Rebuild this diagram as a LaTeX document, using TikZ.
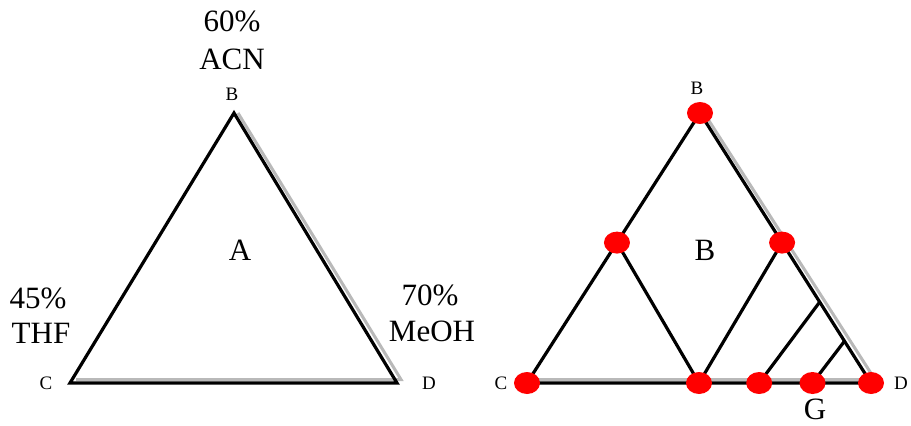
\documentclass[tikz,border=0pt]{standalone}
\usepackage{fontspec}
\setmainfont{Liberation Serif}
\usetikzlibrary{calc,shapes.geometric}

\begin{document}
\begin{tikzpicture}[x=1pt,y=-1pt,
    side/.style={draw,line width=3.2pt,line join=miter},
    shade/.style={draw,gray!55,line width=3pt},
    dot/.style={ellipse,fill=red,minimum width=26pt,minimum height=22pt,inner sep=0pt},
    big/.style={font=\fontsize{31}{35}\selectfont},
    small/.style={font=\fontsize{19}{21}\selectfont}]
    \useasboundingbox (0,0) rectangle (911,426);
    % left triangle
    \coordinate (B1) at (234,113);
    \coordinate (C1) at (70,383);
    \coordinate (D1) at (397,383);
    \path[shade] ($(B1)+(4,0)$) -- ($(D1)+(4,-3.5)$) -- ($(C1)+(6,-3.5)$);
    \path[side] (B1) -- (C1) -- (D1) -- cycle;
    \node[small] (lB1) at (232,94) {B};
    \node[small] (lC1) at (46,383) {C};
    \node[small] (lD1) at (429,383) {D};
    \node[big] (pB1) at (232,21) {60\%};
    \node[big] (sB1) at (232,59) {ACN};
    \node[big] (pC1) at (38,298) {45\%};
    \node[big] (sC1) at (41,333) {THF};
    \node[big] (pD1) at (430,295) {70\%};
    \node[big] (sD1) at (432,331) {MeOH};
    \node[big] (A) at (240,250) {A};
    % right triangle
    \coordinate (B2) at (700,113);
    \coordinate (C2) at (527,383);
    \coordinate (D2) at (871,383);
    \coordinate (L2) at ($(B2)!0.48!(C2)$);
    \coordinate (R2) at ($(B2)!0.48!(D2)$);
    \coordinate (M2) at ($(C2)!0.5!(D2)$);
    \coordinate (E2) at ($(C2)!0.675!(D2)$);
    \coordinate (F2) at ($(C2)!0.83!(D2)$);
    \coordinate (P2) at ($(B2)!0.70!(D2)$);
    \coordinate (Q2) at ($(B2)!0.845!(D2)$);
    \path[shade] ($(B2)+(4,0)$) -- ($(D2)+(4,-3.5)$) -- ($(C2)+(6,-3.5)$);
    \path[side] (B2) -- (C2) -- (D2) -- cycle;
    \path[side] (L2) -- (M2) -- (R2);
    \path[side] (E2) -- (P2);
    \path[side] (F2) -- (Q2);
    \foreach \p in {B2,C2,D2,L2,R2,M2,E2,F2}
        \node[dot] at (\p) {};
    \node[small] (lB2) at (697,88) {B};
    \node[small] (lC2) at (501,383) {C};
    \node[small] (lD2) at (901,383) {D};
    \node[big] (B) at (705,250) {B};
    \node[big] (G) at (815,409) {G};
\end{tikzpicture}
\end{document}
